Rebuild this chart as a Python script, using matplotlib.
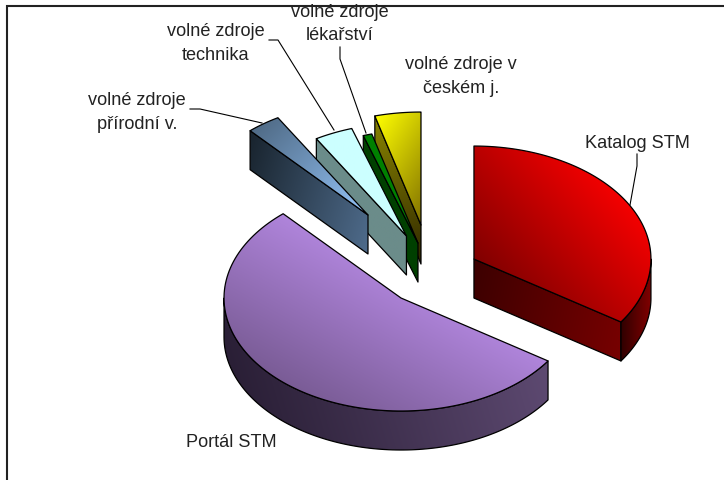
import numpy as np
import matplotlib
matplotlib.use('Agg')
import matplotlib.pyplot as plt
from matplotlib.colors import to_rgb
from matplotlib.patches import Polygon, Rectangle

plt.rcParams['font.family'] = ['Liberation Sans', 'DejaVu Sans']

labels = ['Katalog STM', 'Portál STM', 'volné zdroje\npřírodní v.', 'volné zdroje\ntechnika',
          'volné zdroje\nlékařství', 'volné zdroje v\nčeském j.']
values = [34.4, 54.0, 3.1, 3.5, 0.8, 4.2]
explode_x = [0.275, 0.258, 0.603, 0.337, 0.258, 0.43]
explode_y = [0.30, 0.27, 0.658, 0.379, 0.295, 0.446]

# (start colour, end colour, gradient direction in pixels)
top_colors = [('#800000', '#f40000', (1, -0.9)), ('#7a5c96', '#b085dc', (0.56, -1)),
              ('#4f6a85', '#95c5fa', (1, 1)), ('#ccffff', '#ccffff', (1, 0)),
              ('#008000', '#008000', (1, 0)), ('#807000', '#ffff00', (-1, -0.6))]
wall_colors = [('#3c0000', '#780000', (1, 0.2)), ('#2a1f36', '#5e4a72', (1, -0.3)),
               ('#18232d', '#4f6c8c', (1, 0.3)), ('#6b8c8a', '#6b8c8a', (1, 0)),
               ('#004000', '#004000', (1, 0)), ('#8a8500', '#302800', (0.3, 1))]
outer_colors = [('#300000', '#800000', (1, 0)), ('#2a1f36', '#5e4a72', (1, -0.3))]

cx, cy = 431, 276
rx, ry = 177, 113
depth = 39

fig = plt.figure(figsize=(7.24, 4.81), dpi=100)
ax = fig.add_axes([0, 0, 1, 1])
ax.set_xlim(0, 724)
ax.set_ylim(481, 0)
ax.axis('off')


def pt(theta, ox, oy):
    t = np.radians(theta)
    return np.column_stack([ox + rx * np.sin(t), oy - ry * np.cos(t)])


def fill(poly, colors, z):
    c0, c1, d = colors
    x0, y0 = poly.min(axis=0)
    x1, y1 = poly.max(axis=0)
    xx, yy = np.meshgrid(np.linspace(x0, x1, 200), np.linspace(y0, y1, 200))
    p = xx * d[0] + yy * d[1]
    q = poly[:, 0] * d[0] + poly[:, 1] * d[1]
    s = np.clip((p - q.min()) / max(q.max() - q.min(), 1e-6), 0, 1)[..., None]
    img = np.array(to_rgb(c0)) * (1 - s) + np.array(to_rgb(c1)) * s
    im = ax.imshow(img, extent=(x0, x1, y1, y0), aspect='auto', zorder=z, interpolation='bilinear')
    patch = Polygon(poly, closed=True, facecolor='none', edgecolor='black', lw=0.9, zorder=z + 0.1,
                    joinstyle='round')
    ax.add_patch(patch)
    im.set_clip_path(patch)


# page frame, open at right and bottom
ax.plot([7, 7, 724], [481, 7, 7], color='#222222', lw=1.5, zorder=1, solid_joinstyle='miter')

edges = np.concatenate([[0], np.cumsum(values)]) / sum(values) * 360
z = 2
for i in reversed(range(len(values))):
    a0, a1 = edges[i], edges[i + 1]
    mid = (a0 + a1) / 2
    ox, oy = pt(mid, cx, cy)[0] - np.array([cx, cy])
    ox = cx + ox * explode_x[i]
    oy = cy + oy * explode_y[i]
    apex = np.array([[ox, oy]])
    down = np.array([0, depth])
    arc = pt(np.linspace(a0, a1, 120), ox, oy)

    # side walls that face the viewer
    if np.sin(np.radians(a0)) < -1e-6:
        e = pt(np.array([a0]), ox, oy)
        fill(np.vstack([apex, e, e + down, apex + down]), wall_colors[i], z)
        z += 1
    if np.sin(np.radians(a1)) > 1e-6:
        e = pt(np.array([a1]), ox, oy)
        fill(np.vstack([apex, e, e + down, apex + down]), wall_colors[i], z)
        z += 1
    lo, hi = max(a0, 90), min(a1, 270)
    if hi > lo:
        rim = pt(np.linspace(lo, hi, 120), ox, oy)
        fill(np.vstack([rim, (rim + down)[::-1]]), outer_colors[i], z)
        z += 1
    fill(np.vstack([apex, arc]), top_colors[i], z)
    z += 1

ax.set_xlim(0, 724)
ax.set_ylim(481, 0)

# leader lines
leader_x = [[637, 637, 630], [190, 200, 262], [269, 278, 334], [340, 340, 366]]
leader_y = [[155, 167, 206], [110, 110, 124], [41, 41, 131], [48, 60, 134]]
for xs, ys in zip(leader_x, leader_y):
    ax.plot(xs, ys, color='black', lw=0.8, zorder=z)

label_x = [637.5, 231, 137, 216, 340, 461]
label_y = [143.5, 442.5, 112.5, 43.5, 24, 76.5]
clip = Rectangle((0, 5.5), 724, 476, transform=ax.transData)
for name, x, y in zip(labels, label_x, label_y):
    t = ax.text(x, y, name, ha='center', va='center', fontsize=13.1, color='#222222',
                linespacing=1.52, zorder=z + 1)
    t.set_clip_path(clip)

fig.savefig('out.png', dpi=100)
